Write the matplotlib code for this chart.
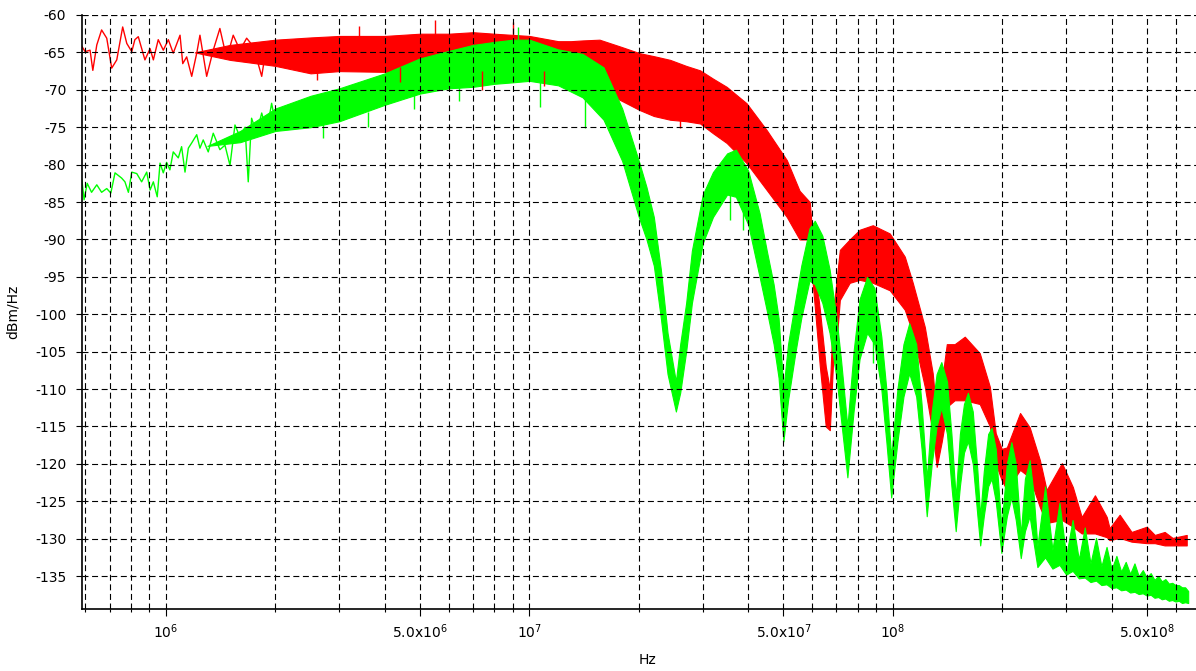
import numpy as np
import matplotlib
matplotlib.use('Agg')
import matplotlib.pyplot as plt
from matplotlib.ticker import FixedLocator, FuncFormatter, NullFormatter

# red trace: thin line at low frequency, then noise band (lower / upper edge)
red_lf_hz = [5.87e5, 5.99e5, 6.18e5, 6.29e5, 6.45e5, 6.65e5, 6.87e5, 7.09e5, 7.32e5, 7.60e5,
             7.80e5, 8.05e5, 8.21e5, 8.39e5, 8.75e5, 9.04e5, 9.23e5, 9.52e5, 9.83e5, 1.015e6,
             1.047e6, 1.093e6, 1.112e6, 1.140e6, 1.177e6, 1.215e6, 1.240e6, 1.294e6, 1.349e6,
             1.407e6, 1.469e6, 1.531e6, 1.598e6, 1.667e6, 1.739e6, 1.834e6, 1.892e6]
red_lf_db = [-64.2, -64.9, -64.7, -67.4, -64.0, -62.0, -63.1, -67.1, -66.0, -61.6,
             -63.8, -64.9, -63.3, -62.9, -66.0, -64.5, -66.0, -63.3, -64.7, -63.3,
             -65.1, -62.7, -66.5, -65.6, -68.2, -65.1, -62.7, -68.2, -64.7,
             -61.8, -65.8, -62.7, -64.7, -63.1, -64.2, -68.2, -64.0]

red_hz = [1.2e6, 1.5e6, 2.0e6, 2.5e6, 3.0e6, 4.0e6, 5.0e6, 6.0e6, 7.0e6, 8.0e6, 1.0e7,
          1.2e7, 1.3e7, 1.4e7, 1.56e7, 1.8e7, 2.01e7, 2.2e7, 2.44e7, 2.7e7, 2.95e7, 3.2e7, 3.49e7,
          3.96e7, 4.5e7, 5.11e7, 5.54e7, 5.91e7, 6.0e7, 6.1e7, 6.3e7, 6.54e7, 6.71e7, 6.84e7,
          7.02e7, 7.15e7, 7.61e7, 8.11e7, 8.81e7, 9.81e7, 1.079e8, 1.135e8, 1.225e8, 1.288e8,
          1.321e8, 1.364e8, 1.386e8, 1.408e8, 1.48e8, 1.578e8, 1.735e8, 1.85e8, 1.92e8, 1.995e8,
          2.06e8, 2.24e8, 2.38e8, 2.54e8, 2.65e8, 2.92e8, 3.13e8, 3.31e8, 3.6e8, 3.88e8,
          3.95e8, 4.21e8, 4.54e8, 5.0e8, 5.26e8, 5.6e8, 5.89e8, 6.44e8]
red_lo = [-65.0, -66.0, -66.8, -67.8, -67.5, -67.6, -67.5, -67.8, -68.0, -68.0, -68.2,
          -68.5, -69.0, -69.5, -70.0, -71.5, -72.7, -73.5, -74.0, -74.2, -74.5, -75.8, -77.1,
          -79.8, -83.4, -87.0, -90.0, -90.0, -95.0, -99.0, -107.0, -115.0, -115.5, -107.0,
          -103.0, -98.1, -95.8, -95.4, -95.8, -96.8, -99.4, -102.5, -109.7, -115.9,
          -120.4, -117.0, -115.0, -112.4, -111.5, -111.5, -112.0, -115.0, -120.0, -122.2,
          -123.5, -120.8, -121.8, -125.8, -127.9, -127.5, -128.4, -129.3, -129.3, -129.8,
          -130.2, -129.9, -130.4, -130.6, -130.6, -130.9, -130.9, -130.9]
red_hi = [-65.0, -64.0, -63.3, -63.0, -62.8, -62.8, -62.5, -62.5, -62.3, -62.5, -62.8,
          -63.5, -63.5, -63.4, -63.3, -64.3, -65.1, -65.5, -66.0, -66.8, -67.4, -68.5, -69.6,
          -71.8, -75.4, -79.4, -83.5, -85.0, -89.0, -93.7, -99.4, -107.0, -110.0, -100.3,
          -95.0, -91.4, -90.0, -88.7, -88.1, -89.2, -92.3, -95.8, -101.7, -107.9,
          -113.7, -110.0, -106.5, -104.0, -104.0, -103.0, -105.2, -109.7, -115.9, -118.0,
          -117.8, -113.2, -115.1, -119.5, -123.5, -119.9, -123.1, -127.1, -124.2, -127.1,
          -128.6, -126.8, -129.1, -128.4, -129.5, -129.1, -129.9, -129.5]

# isolated noise spikes sticking out of the red band: (Hz, band edge, tip)
red_spk_hz = [2.6e6, 3.4e6, 4.4e6, 5.5e6, 7.4e6, 9.0e6, 1.1e7, 2.6e7]
red_spk_from = [-67.0, -63.0, -67.0, -62.8, -67.5, -62.8, -67.5, -73.5]
red_spk_to = [-68.7, -61.5, -69.0, -60.7, -70.0, -61.0, -69.5, -75.1]

# green trace
green_lf_hz = [5.87e5, 5.95e5, 6.07e5, 6.24e5, 6.45e5, 6.65e5, 6.87e5, 7.05e5, 7.24e5, 7.55e5,
               7.71e5, 7.88e5, 8.05e5, 8.31e5, 8.57e5, 8.85e5, 9.04e5, 9.23e5, 9.46e5, 9.63e5,
               9.83e5, 1.004e6, 1.025e6, 1.047e6, 1.081e6, 1.104e6, 1.128e6, 1.152e6, 1.177e6,
               1.215e6, 1.240e6, 1.266e6, 1.307e6, 1.349e6, 1.407e6, 1.453e6, 1.500e6, 1.548e6,
               1.598e6, 1.650e6, 1.684e6, 1.720e6, 1.776e6, 1.834e6, 1.892e6, 1.953e6, 2.016e6,
               2.081e6, 2.148e6, 2.217e6, 2.289e6]
green_lf_db = [-82.1, -84.7, -82.5, -83.7, -82.7, -83.7, -83.2, -83.8, -81.1, -81.8,
               -82.3, -83.7, -81.0, -81.2, -82.3, -81.0, -83.4, -82.3, -84.3, -79.8,
               -81.1, -79.7, -80.7, -78.3, -79.1, -77.6, -81.0, -77.8, -77.1,
               -76.0, -77.8, -76.7, -78.3, -75.8, -78.0, -77.4, -80.1, -74.7,
               -76.3, -75.0, -82.3, -73.8, -75.8, -73.1, -75.6, -71.8, -75.4,
               -72.7, -75.0, -72.3, -73.6]

green_hz = [1.3e6, 1.6e6, 2.0e6, 2.5e6, 3.0e6, 4.0e6, 5.0e6, 6.0e6, 7.0e6, 8.0e6, 9.0e6, 1.0e7,
            1.2e7, 1.4e7, 1.6e7, 1.8e7, 2.0e7, 2.1e7, 2.2e7, 2.3e7, 2.4e7, 2.53e7, 2.6e7, 2.7e7,
            2.8e7, 3.0e7, 3.2e7, 3.5e7, 3.7e7, 4.0e7, 4.3e7, 4.5e7, 4.7e7, 4.85e7, 5.0e7, 5.15e7,
            5.4e7, 5.6e7, 5.9e7, 6.1e7, 6.4e7, 6.7e7, 7.0e7, 7.2e7, 7.5e7, 7.8e7, 8.1e7, 8.5e7,
            8.9e7, 9.3e7, 9.6e7, 9.9e7, 1.03e8, 1.07e8, 1.11e8, 1.16e8, 1.2e8, 1.24e8, 1.28e8,
            1.32e8, 1.36e8, 1.41e8, 1.45e8, 1.49e8, 1.53e8, 1.57e8, 1.61e8, 1.66e8, 1.71e8,
            1.74e8, 1.78e8, 1.83e8, 1.87e8, 1.92e8, 1.99e8, 2.06e8, 2.12e8, 2.18e8, 2.25e8,
            2.31e8, 2.38e8, 2.44e8, 2.5e8, 2.625e8, 2.75e8, 2.875e8, 3.0e8, 3.125e8, 3.25e8,
            3.375e8, 3.5e8, 3.625e8, 3.75e8, 3.875e8, 4.0e8, 4.125e8, 4.25e8, 4.375e8, 4.5e8,
            4.625e8, 4.75e8, 4.875e8, 5.0e8, 5.125e8, 5.25e8, 5.375e8, 5.5e8, 5.625e8, 5.75e8,
            5.875e8, 6.0e8, 6.125e8, 6.25e8, 6.375e8, 6.5e8]
green_lo = [-77.5, -77.0, -75.5, -75.0, -74.2, -72.0, -70.5, -69.8, -69.6, -69.2, -69.0, -68.8,
            -69.4, -71.0, -74.0, -79.5, -87.0, -90.0, -93.5, -100.5, -108.0, -113.0, -110.5, -105.0,
            -98.5, -90.5, -87.0, -84.0, -84.3, -88.0, -95.0, -99.5, -104.0, -108.5, -117.0, -111.5,
            -105.0, -100.5, -95.5, -96.0, -98.5, -102.5, -108.5, -114.0, -121.8, -113.0, -106.0, -102.5,
            -104.0, -110.0, -117.0, -124.5, -117.0, -111.0, -107.9, -111.0, -118.0, -127.0, -120.0,
            -115.0, -112.5, -116.0, -123.0, -129.0, -123.0, -118.5, -117.0, -120.0, -127.0,
            -130.9, -127.0, -123.0, -122.0, -125.0, -131.9, -127.0, -124.5, -127.5, -132.6,
            -129.0, -127.0, -130.5, -133.8, -132.5, -134.0, -133.5, -134.8, -134.3, -135.3,
            -135.2, -135.8, -135.6, -136.2, -136.1, -136.6, -136.5, -136.9, -136.8, -137.2,
            -137.1, -137.4, -137.3, -137.6, -137.5, -137.9, -137.8, -138.1, -138.0, -138.3,
            -138.2, -138.4, -138.3, -138.6, -138.5, -138.6]
green_hi = [-77.5, -75.5, -72.5, -70.8, -69.8, -67.8, -65.8, -64.8, -64.0, -63.6, -63.3, -63.3,
            -64.6, -65.2, -67.0, -72.5, -79.5, -83.0, -87.0, -94.0, -102.5, -109.0, -104.0, -98.5,
            -91.5, -84.0, -81.0, -78.5, -78.0, -80.8, -86.5, -91.5, -96.0, -100.5, -110.0, -104.0,
            -98.0, -93.5, -88.5, -87.5, -89.5, -94.0, -100.5, -106.0, -115.0, -105.0, -98.0, -95.0,
            -96.5, -103.0, -110.0, -119.0, -110.0, -104.0, -101.2, -104.0, -112.0, -122.0, -113.0,
            -108.0, -106.4, -109.0, -116.0, -124.5, -116.0, -112.0, -110.5, -113.0, -121.0,
            -127.0, -121.0, -116.0, -115.2, -118.0, -128.5, -120.0, -117.1, -120.0, -129.5,
            -122.0, -119.5, -124.0, -131.0, -123.0, -131.5, -125.2, -132.3, -127.5, -132.8,
            -128.5, -133.3, -129.9, -133.7, -131.1, -134.1, -132.3, -134.4, -133.1, -134.7,
            -133.3, -135.0, -134.2, -135.2, -134.6, -135.5, -135.0, -135.7, -135.4, -136.0,
            -135.9, -136.2, -136.2, -136.5, -136.5, -137.0]

green_spk_hz = [2.7e6, 3.6e6, 4.8e6, 6.4e6, 9.3e6, 1.07e7, 1.42e7, 3.56e7, 3.87e7, 8.8e7]
green_spk_from = [-74.5, -73.0, -70.5, -69.5, -63.3, -68.8, -70.5, -83.5, -84.0, -103.5]
green_spk_to = [-76.5, -75.0, -72.5, -71.5, -61.6, -72.3, -75.1, -87.4, -88.7, -106.5]

x_major = [1e6, 5e6, 1e7, 5e7, 1e8, 5e8]
x_labels = ['$10^{6}$', '5.0x$10^{6}$', '$10^{7}$', '5.0x$10^{7}$', '$10^{8}$', '5.0x$10^{8}$']
x_minor = [6e5, 7e5, 8e5, 9e5, 2e6, 3e6, 4e6, 6e6, 7e6, 8e6, 9e6,
           2e7, 3e7, 4e7, 6e7, 7e7, 8e7, 9e7, 2e8, 3e8, 4e8, 6e8]
y_ticks = list(range(-135, -59, 5))

RED = '#ff0000'
GREEN = '#00ff00'

plt.rcParams['font.family'] = 'DejaVu Sans'
plt.rcParams['font.size'] = 10
plt.rcParams['lines.scale_dashes'] = False

fig = plt.figure(figsize=(11.96, 6.71), dpi=100)
ax = fig.add_axes([82 / 1196, 1 - 609 / 671, 1 - 82 / 1196, (609 - 15) / 671])

ax.fill_between(red_hz, red_lo, red_hi, color=RED, lw=0.8)
ax.vlines(red_spk_hz, red_spk_from, red_spk_to, color=RED, lw=1.0)
ax.plot(red_lf_hz, red_lf_db, color=RED, lw=1.0)
ax.fill_between(green_hz, green_lo, green_hi, color=GREEN, lw=0.8)
ax.vlines(green_spk_hz, green_spk_from, green_spk_to, color=GREEN, lw=1.0)
ax.plot(green_lf_hz, green_lf_db, color=GREEN, lw=1.0)

ax.set_xscale('log')
ax.set_xlim(5.873e5, 6.83e8)
ax.set_ylim(-139.4, -60)

ax.xaxis.set_major_locator(FixedLocator(x_major))
ax.xaxis.set_major_formatter(FuncFormatter(lambda v, p: x_labels[x_major.index(v)] if v in x_major else ''))
ax.xaxis.set_minor_locator(FixedLocator(x_minor))
ax.xaxis.set_minor_formatter(NullFormatter())
ax.yaxis.set_major_locator(FixedLocator(y_ticks))
ax.yaxis.set_major_formatter(FuncFormatter(lambda v, p: '%d' % v))

ax.tick_params(axis='x', which='major', length=5, width=0.8, pad=5)
ax.tick_params(axis='x', which='minor', length=2.2, width=0.8)
ax.tick_params(axis='y', length=4.3, width=0.8, pad=7)

grid_kw = dict(color='black', lw=0.8, linestyle=(0, (4.3, 2.6)))
ax.grid(which='both', axis='x', **grid_kw)
ax.grid(which='major', axis='y', **grid_kw)
ax.axhline(-60, **grid_kw)
ax.set_axisbelow(False)

for s in ['top', 'right']:
    ax.spines[s].set_visible(False)
for s in ['left', 'bottom']:
    ax.spines[s].set_linewidth(1.2)

ax.set_xlabel('Hz')
ax.xaxis.set_label_coords(0.508, -0.074)
ax.set_ylabel('dBm/Hz')
ax.yaxis.set_label_coords(-0.0557, 0.5)

fig.savefig('out.png', dpi=100)
